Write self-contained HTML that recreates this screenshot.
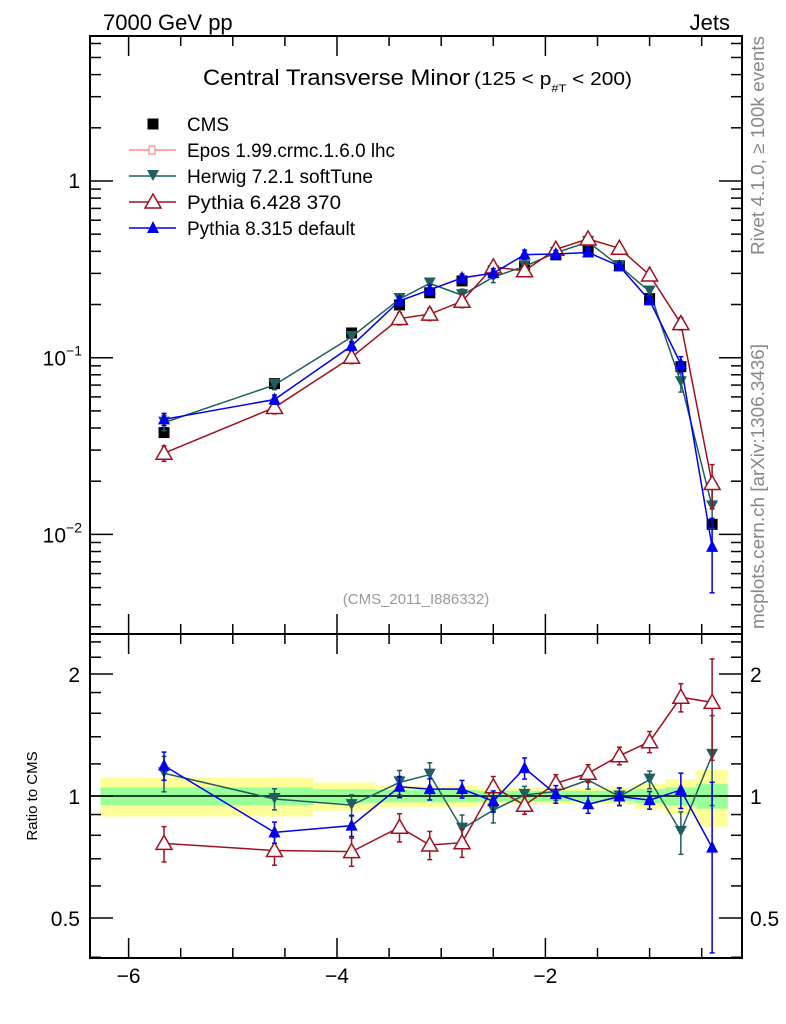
<!DOCTYPE html>
<html><head><meta charset="utf-8"><style>
body{margin:0;background:#fff;}
svg{display:block;font-family:"Liberation Sans",sans-serif;}
</style></head><body>
<svg id="c" width="786" height="1024" viewBox="0 0 786 1024" xmlns="http://www.w3.org/2000/svg">
<text x="103" y="30" font-size="22">7000 GeV pp</text>
<text x="730" y="30" font-size="22" text-anchor="end">Jets</text>
<text x="203" y="85" font-size="22" textLength="267" lengthAdjust="spacingAndGlyphs">Central Transverse Minor</text>
<text x="474" y="85" font-size="18" textLength="158" lengthAdjust="spacingAndGlyphs">(125 &lt; p<tspan font-size="11" dy="7">#T</tspan><tspan dy="-7">  &lt; 200)</tspan></text>
<text transform="translate(764,255) rotate(-90)" font-size="18" fill="#888" textLength="219" lengthAdjust="spacingAndGlyphs">Rivet 4.1.0, ≥ 100k events</text>
<text transform="translate(764,629) rotate(-90)" font-size="18" fill="#888" textLength="285" lengthAdjust="spacingAndGlyphs">mcplots.cern.ch [arXiv:1306.3436]</text>
<text x="416" y="604" font-size="15" fill="#999" text-anchor="middle">(CMS_2011_I886332)</text>
<text transform="translate(37,796) rotate(-90)" font-size="15" text-anchor="middle">Ratio to CMS</text>
<g id="g"></g>
</svg>
<script>
const xc=[-5.66,-4.60,-3.86,-3.40,-3.11,-2.80,-2.50,-2.20,-1.90,-1.59,-1.29,-1.00,-0.70,-0.40];
const cms=[0.0377,0.0713,0.138,0.199,0.233,0.272,0.31,0.327,0.382,0.413,0.331,0.216,0.089,0.0114];
const herwig=[0.0429,0.0701,0.131,0.215,0.263,0.226,0.286,0.329,0.392,0.452,0.330,0.237,0.0726,0.0144];
const py6=[0.0288,0.0523,0.1006,0.1666,0.1764,0.2086,0.3267,0.3103,0.4107,0.47,0.416,0.294,0.156,0.0194];
const py8=[0.0448,0.058,0.1166,0.2097,0.2423,0.283,0.301,0.383,0.386,0.394,0.330,0.211,0.0921,0.0085];
const errH=[0.1,0.06,0.06,0.07,0.07,0.08,0.07,0.05,0.05,0.05,0.05,0.05,0.12,0.25];
const err6=[0.1,0.08,0.08,0.08,0.08,0.08,0.06,0.05,0.05,0.05,0.05,0.06,0.08,0.28];
const err8=[0.08,0.06,0.06,0.06,0.06,0.05,0.06,0.06,0.05,0.05,0.05,0.05,0.1,0.45];
const bandStat=[0.05,0.05,0.04,0.035,0.035,0.035,0.03,0.03,0.03,0.03,0.03,0.04,0.05,0.07];
const bandTot=[0.11,0.11,0.08,0.06,0.06,0.06,0.045,0.045,0.045,0.045,0.045,0.07,0.10,0.16];
const xTicks=[-6,-4,-2];
const ratioTicks=[0.5,1,2];

const L=90,R=742,T=36,M=634,B=958;
const X=v=>337+(v+4)*104.2;
const Y=v=>181-Math.log10(v)*176.7;
const YR=v=>796-Math.log2(v)*122;
const NS="http://www.w3.org/2000/svg";
const g=document.getElementById('g');
function el(t,a,p){const e=document.createElementNS(NS,t);for(const k in a)e.setAttribute(k,a[k]);(p||g).appendChild(e);return e;}
const edges=[-6.27];for(let i=0;i<xc.length-1;i++)edges.push((xc[i]+xc[i+1])/2);edges.push(-0.25);
for(let i=0;i<xc.length;i++){
 const r=el('rect',{x:X(edges[i]),y:YR(1+bandTot[i]),width:X(edges[i+1])-X(edges[i]),height:YR(1-bandTot[i])-YR(1+bandTot[i]),fill:'#ffff99'});
 
 
}
for(let i=0;i<xc.length;i++){
 const r=el('rect',{x:X(edges[i]),y:YR(1+bandStat[i]),width:X(edges[i+1])-X(edges[i]),height:YR(1-bandStat[i])-YR(1+bandStat[i]),fill:'#99ff99'});
 
 
}
el('line',{x1:L,x2:R,y1:YR(1),y2:YR(1),stroke:'#000','stroke-width':1.5});
el('rect',{x:L,y:T,width:R-L,height:M-T,fill:'none',stroke:'#000','stroke-width':2});
el('rect',{x:L,y:M,width:R-L,height:B-M,fill:'none',stroke:'#000','stroke-width':2});
function tick(x1,y1,x2,y2){el('line',{x1,y1,x2,y2,stroke:'#000','stroke-width':1.5});}
for(let v=-6.5;v<=-0.1;v+=0.5){
 if(X(v)<L)continue;
 const maj=Math.abs(v-Math.round(v))<1e-6&&Math.round(v)%2===0;
 const len=maj?20:10;
 tick(X(v),T,X(v),T+len);tick(X(v),M,X(v),M-len);tick(X(v),M,X(v),M+len);tick(X(v),B,X(v),B-len);
}
xTicks.forEach(v=>{const t=el('text',{x:X(v),y:983,'font-size':21,'text-anchor':'middle'});t.textContent='\u2212'+Math.abs(v);
 
 });
for(let d=-3;d<=1;d++){for(let m=1;m<=9;m++){const v=m*Math.pow(10,d);const y=Y(v);if(y<T||y>M)continue;const len=m===1?23:11;tick(L,y,L+len,y);tick(R,y,R-len,y);}}
[[1,'1'],[0.1,'-1'],[0.01,'-2']].forEach(([v,s])=>{
 let t;
 if(v===1){t=el('text',{x:80,y:Y(v)+7,'font-size':21,'text-anchor':'end'});t.textContent='1';}
 else{t=el('text',{x:82,y:Y(v)+8,'font-size':21,'text-anchor':'end'});t.innerHTML='10<tspan font-size="14" dy="-10">\u2212'+s.slice(1)+'</tspan>';}
 
 
});
for(const v of [0.4,0.5,0.6,0.7,0.8,0.9,1,1.2,1.4,1.6,1.8,2,2.2,2.4]){const y=YR(v);if(y<M||y>B)continue;const maj=[0.5,1,2].includes(v);const len=maj?23:11;tick(L,y,L+len,y);tick(R,y,R-len,y);}
ratioTicks.forEach(v=>{
 const t=el('text',{x:80,y:YR(v)+8,'font-size':21,'text-anchor':'end'});t.textContent=String(v);
 
 
 const t2=el('text',{x:750,y:YR(v)+8,'font-size':21});t2.textContent=String(v);
 
 
});
function marker(type,x,y,col,parent){
 if(type==='sq')return el('rect',{x:x-5.5,y:y-5.5,width:11,height:11,fill:col},parent);
 if(type==='down')return el('path',{d:`M${x-6},${y-6}L${x+6},${y-6}L${x},${y+5}Z`,fill:col},parent);
 if(type==='upo')return el('path',{d:`M${x},${y-8}L${x+8},${y+6}L${x-8},${y+6}Z`,fill:'#fff',stroke:col,'stroke-width':1.5},parent);
 if(type==='up')return el('path',{d:`M${x},${y-7}L${x+6},${y+5}L${x-6},${y+5}Z`,fill:col},parent);
}
function series(name,vals,errs,col,mk,ratio){
 const sg=el('g',{});
 
 
 const yf=ratio?(i=>YR(vals[i]/cms[i])):(i=>Y(vals[i]));
 const yv=ratio?(i,f)=>YR(vals[i]/cms[i]*f):(i,f)=>Y(vals[i]*f);
 el('polyline',{points:xc.map((x,i)=>X(x)+','+yf(i)).join(' '),fill:'none',stroke:col,'stroke-width':1.5},sg);
 xc.forEach((x,i)=>{
  const y1=yv(i,1+errs[i]),y2=yv(i,1-errs[i]);
  el('line',{x1:X(x),x2:X(x),y1,y2,stroke:col,'stroke-width':1.5},sg);
  el('line',{x1:X(x)-2.5,x2:X(x)+2.5,y1,y2:y1,stroke:col,'stroke-width':1.5},sg);
  el('line',{x1:X(x)-2.5,x2:X(x)+2.5,y1:y2,y2,stroke:col,'stroke-width':1.5},sg);
  marker(mk,X(x),yf(i),col,sg);
 });
}
const cmsG=el('g',{});


xc.forEach((x,i)=>marker('sq',X(x),Y(cms[i]),'#000',cmsG));
series('herwig-series',herwig,errH,'#1f5f5f','down',false);
series('pythia6-series',py6,err6,'#a0101e','upo',false);
series('pythia8-series',py8,err8,'#0000ee','up',false);
series('herwig-ratio',herwig,errH,'#1f5f5f','down',true);
series('pythia6-ratio',py6,err6,'#a0101e','upo',true);
series('pythia8-ratio',py8,err8,'#0000ee','up',true);
const leg=[['CMS','#000','sq'],['Epos 1.99.crmc.1.6.0 lhc','#ff8888','epos'],['Herwig 7.2.1 softTune','#1f5f5f','down'],['Pythia 6.428 370','#a0101e','upo'],['Pythia 8.315 default','#0000ee','up']];
const legW=[42,208,186,154,168];
leg.forEach(([n,c,m],i)=>{
 const y=124+i*26;
 const lg=el('g',{});
 
 
 if(m!=='sq')el('line',{x1:129,x2:176,y1:y,y2:y,stroke:c,'stroke-width':1.5},lg);
 if(m==='epos'){el('rect',{x:149,y:y-4,width:6,height:8,fill:'#fff',stroke:c,'stroke-width':1.2},lg);}
 else marker(m,153,y,c,lg);
 const t=el('text',{x:187,y:y+7,'font-size':19,textLength:legW[i],lengthAdjust:'spacingAndGlyphs'},lg);t.textContent=n;
});
</script>
</body></html>
